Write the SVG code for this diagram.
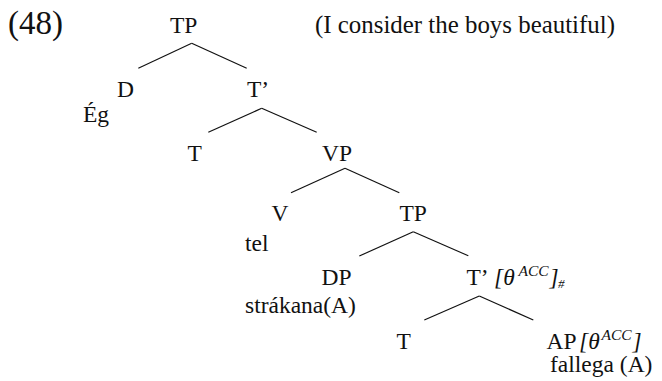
<svg xmlns="http://www.w3.org/2000/svg" width="662" height="381" viewBox="0 0 662 381">
<style>
text{font-family:"Liberation Serif","Times New Roman",serif;font-size:23.5px;fill:#111}
.it{font-style:italic}
.sup{font-style:italic;font-size:15.5px}
.sub{font-style:italic;font-size:13px}
.edge{stroke:#111;stroke-width:1.2;fill:none}
</style>
<rect width="662" height="381" fill="#fff"/>
<text id="exnum" x="8" y="34" style="font-size:33px">(48)</text>
<text id="gloss" x="315" y="33" style="font-size:24.9px">(I consider the boys beautiful)</text>
<g id="connectors">
<line class="edge" x1="191.7" y1="43.3" x2="138.3" y2="68.3"/>
<line class="edge" x1="191.7" y1="43.3" x2="246.7" y2="68.3"/>
<line class="edge" x1="261.7" y1="108.3" x2="208.3" y2="132.3"/>
<line class="edge" x1="261.7" y1="108.3" x2="316.7" y2="132.3"/>
<line class="edge" x1="345" y1="168.3" x2="291" y2="192.7"/>
<line class="edge" x1="345" y1="168.3" x2="399.3" y2="192.7"/>
<line class="edge" x1="413.3" y1="231.7" x2="359.3" y2="256"/>
<line class="edge" x1="413.3" y1="231.7" x2="468.3" y2="255.7"/>
<line class="edge" x1="479.3" y1="296" x2="424.3" y2="320"/>
<line class="edge" x1="479.3" y1="296" x2="533.3" y2="320"/>
</g>
<g id="n-TP1"><text x="170" y="33">TP</text></g>
<g id="n-D"><text x="117" y="97">D</text><text x="83" y="122">Ég</text></g>
<g id="n-Tbar1"><text x="247" y="97">T’</text></g>
<g id="n-T1"><text x="187.5" y="161">T</text></g>
<g id="n-VP"><text x="322" y="161">VP</text></g>
<g id="n-V"><text x="271.5" y="221">V</text><text x="245" y="251">tel</text></g>
<g id="n-TP2"><text x="399.5" y="221">TP</text></g>
<g id="n-DP"><text x="321.5" y="285">DP</text><text x="245" y="313">strákana(A)</text></g>
<g id="n-Tbar2"><text x="466.5" y="285">T’<tspan class="it" x="494">[θ</tspan><tspan class="sup" x="518.5" dy="-9">ACC</tspan><tspan class="it" x="549.5" dy="9">]</tspan><tspan class="sub" x="558" dy="3">#</tspan></text></g>
<g id="n-T2"><text x="396.5" y="348.5">T</text></g>
<g id="n-AP"><text x="546.5" y="348.5">AP<tspan class="it" x="579">[θ</tspan><tspan class="sup" x="601.5" dy="-9">ACC</tspan><tspan class="it" x="632.5" dy="9">]</tspan></text><text x="550" y="372">fallega (A)</text></g>
</svg>
